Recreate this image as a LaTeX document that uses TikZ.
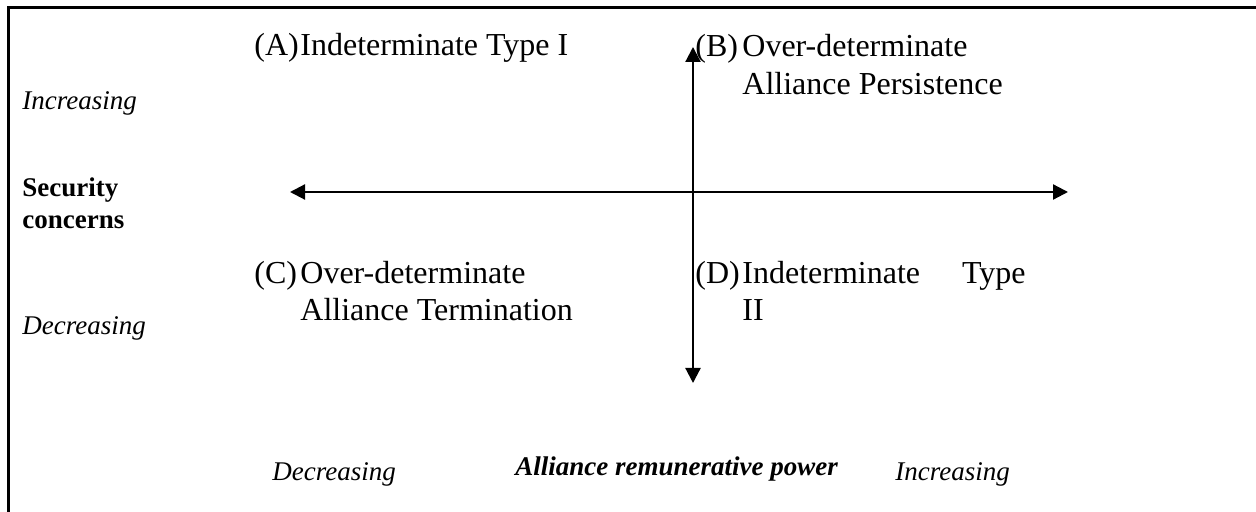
\documentclass[tikz,border=0pt]{standalone}
\usepackage{fontspec}
\setmainfont{Liberation Serif}
\usetikzlibrary{positioning,arrows.meta}

\begin{document}
\begin{tikzpicture}[x=0.5pt,y=-0.5pt,
    tip/.tip={Triangle[length=7.5pt,width=7.5pt]},
    axis/.style={tip-tip, line width=1.1pt},
    quad/.style={font=\fontsize{16}{18.5}\selectfont, anchor=base west, inner sep=0pt},
    side/.style={font=\fontsize{13.5}{16}\selectfont\itshape, anchor=base west, inner sep=0pt},
    sidebf/.style={font=\fontsize{13.5}{16}\selectfont\bfseries, anchor=base west, inner sep=0pt}]
    \def\outerbox{(8,8) rectangle (1300,560)}
    \useasboundingbox (0,0) rectangle (1256,512);
    \draw[line width=1.5pt] \outerbox;
    % axes
    \coordinate (xleft) at (290,192);
    \coordinate (xright) at (1068,192);
    \coordinate (ytop) at (693,47);
    \coordinate (ybot) at (693,383);
    \draw[axis] (xleft) -- (xright);
    \draw[axis] (ytop) -- (ybot);
    % quadrants
    \node[quad] (labA) at (254,56) {(A)};
    \node[quad] (txtA) at (300,56) {Indeterminate Type I};
    \node[quad] (labB) at (695,57) {(B)};
    \node[quad] (txtB) at (742,57) {Over-determinate};
    \node[quad] (txtBb) at (742,95) {Alliance Persistence};
    \node[quad] (labC) at (254,284) {(C)};
    \node[quad] (txtC) at (300,284) {Over-determinate};
    \node[quad] (txtCb) at (300,321) {Alliance Termination};
    \node[quad] (labD) at (695,284) {(D)};
    \node[quad] (txtD) at (742,284) {Indeterminate\hspace{21pt}Type};
    \node[quad] (txtDb) at (742,321) {II};
    % vertical labels
    \node[side] (incY) at (22,110) {Increasing};
    \node[sidebf] (secY) at (22,197) {Security};
    \node[sidebf] (secYb) at (22,229) {concerns};
    \node[side] (decY) at (22,335) {Decreasing};
    % horizontal labels
    \node[side] (decX) at (272,480) {Decreasing};
    \node[sidebf,font=\fontsize{13.5}{16}\selectfont\bfseries\itshape] (powX) at (515,475) {Alliance remunerative power};
    \node[side] (incX) at (895,480) {Increasing};
\end{tikzpicture}
\end{document}
